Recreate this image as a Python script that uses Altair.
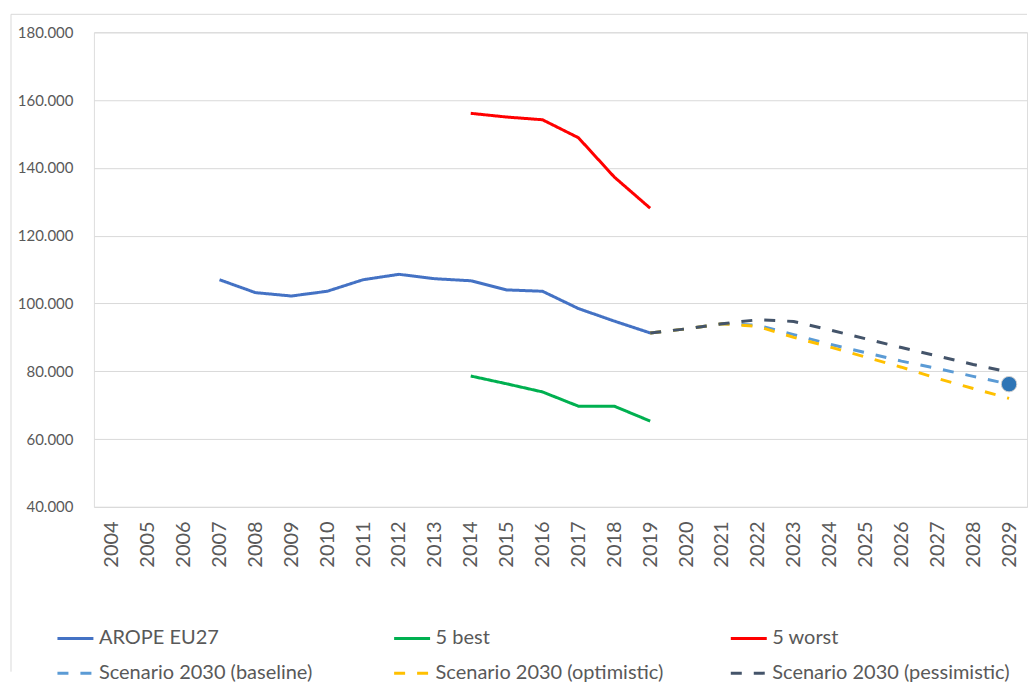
import altair as alt
import pandas as pd

years = [str(y) for y in range(2004, 2030)]

arope_years = [str(y) for y in range(2007, 2020)]
arope_vals = [107000, 103200, 102200, 103600, 107000, 108600, 107300, 106700,
              104000, 103600, 98500, 94800, 91300]

hist_years = [str(y) for y in range(2014, 2020)]
best_vals = [78600, 76300, 73900, 69700, 69700, 65300]
worst_vals = [156100, 155000, 154200, 148900, 137300, 128100]

scen_years = [str(y) for y in range(2019, 2030)]
baseline_vals = [91300, 92500, 94000, 93600, 90800, 88000, 85500, 83000, 80800, 78500, 76200]
optimistic_vals = [91300, 92500, 94000, 93200, 90000, 87200, 84200, 81200, 77900, 74900, 72000]
pessimistic_vals = [91300, 92500, 94000, 95200, 94700, 92200, 89600, 87000, 84500, 82000, 79800]

marker_year = ["2029"]
marker_val = [76200]

series_names = ["AROPE EU27", "5 best", "5 worst",
                "Scenario 2030 (baseline)", "Scenario 2030 (optimistic)",
                "Scenario 2030 (pessimistic)"]
series_colors = ["#4472C4", "#00B050", "#FF0000", "#5B9BD5", "#FFC000", "#44546A"]
series_dash = [[1, 0], [1, 0], [1, 0], [11, 12], [11, 12], [11, 12]]

rows = []
for name, ys, vs in [
    (series_names[0], arope_years, arope_vals),
    (series_names[1], hist_years, best_vals),
    (series_names[2], hist_years, worst_vals),
    (series_names[3], scen_years, baseline_vals),
    (series_names[4], scen_years, optimistic_vals),
    (series_names[5], scen_years, pessimistic_vals),
]:
    for y, v in zip(ys, vs):
        rows.append({"series": name, "year": y, "value": v})
df = pd.DataFrame(rows)
mdf = pd.DataFrame({"year": marker_year, "value": marker_val})

FONT = "Lato"
W, H = 934, 475

xenc = alt.X("year:O", scale=alt.Scale(type="point", padding=0.5, domain=years),
             axis=alt.Axis(title=None, labelAngle=270, labelFontSize=20, labelColor="#595959",
                           labelFont=FONT, ticks=False, domain=False, grid=False,
                           labelPadding=14))
yenc = alt.Y("value:Q", scale=alt.Scale(domain=[40000, 180000], nice=False, zero=False),
             axis=alt.Axis(title=None, values=list(range(40000, 180001, 20000)),
                           labelExpr="replace(format(datum.value, ',.0f'), ',', '.')",
                           labelFontSize=15, labelColor="#595959", labelFont=FONT,
                           ticks=False, domain=False, grid=True, gridColor="#D9D9D9",
                           gridWidth=1, labelPadding=21))

lines = alt.Chart(df).mark_line(strokeWidth=3).encode(
    x=xenc,
    y=yenc,
    color=alt.Color("series:N", scale=alt.Scale(domain=series_names, range=series_colors),
                    legend=alt.Legend(title=None, orient="none", legendX=-38, legendY=587,
                                      direction="horizontal",
                                      columns=3, columnPadding=51, rowPadding=5,
                                      symbolType="stroke", symbolSize=1296,
                                      symbolStrokeWidth=3, labelFontSize=20,
                                      labelFont=FONT, labelColor="#595959",
                                      labelLimit=400, labelOffset=4, gridAlign="all",
                                      padding=0)),
    strokeDash=alt.StrokeDash("series:N", scale=alt.Scale(domain=series_names, range=series_dash),
                              legend=None),
    order=alt.Order("year:O"),
)

marker = alt.Chart(mdf).mark_circle(size=240, color="#2E75B6", opacity=1,
                                    stroke="#D0D0D0", strokeWidth=1).encode(
    x=alt.X("year:O", scale=alt.Scale(type="point", padding=0.5, domain=years)),
    y=alt.Y("value:Q"),
)

border_top = alt.Chart(mdf).mark_rule(color="#D9D9D9", strokeWidth=1).encode(
    x=alt.value(-83), x2=alt.value(W), y=alt.value(-18))
border_left = alt.Chart(mdf).mark_rule(color="#D9D9D9", strokeWidth=1).encode(
    x=alt.value(-83), y=alt.value(-18), y2=alt.value(640))

chart = alt.layer(border_top, border_left, lines, marker).properties(
    width=W, height=H, padding={"left": 2, "top": 5, "right": 0, "bottom": 0}
).configure_view(stroke=None).configure(background="white")

chart.save("out.html", embed_options={"renderer": "svg", "actions": False})
